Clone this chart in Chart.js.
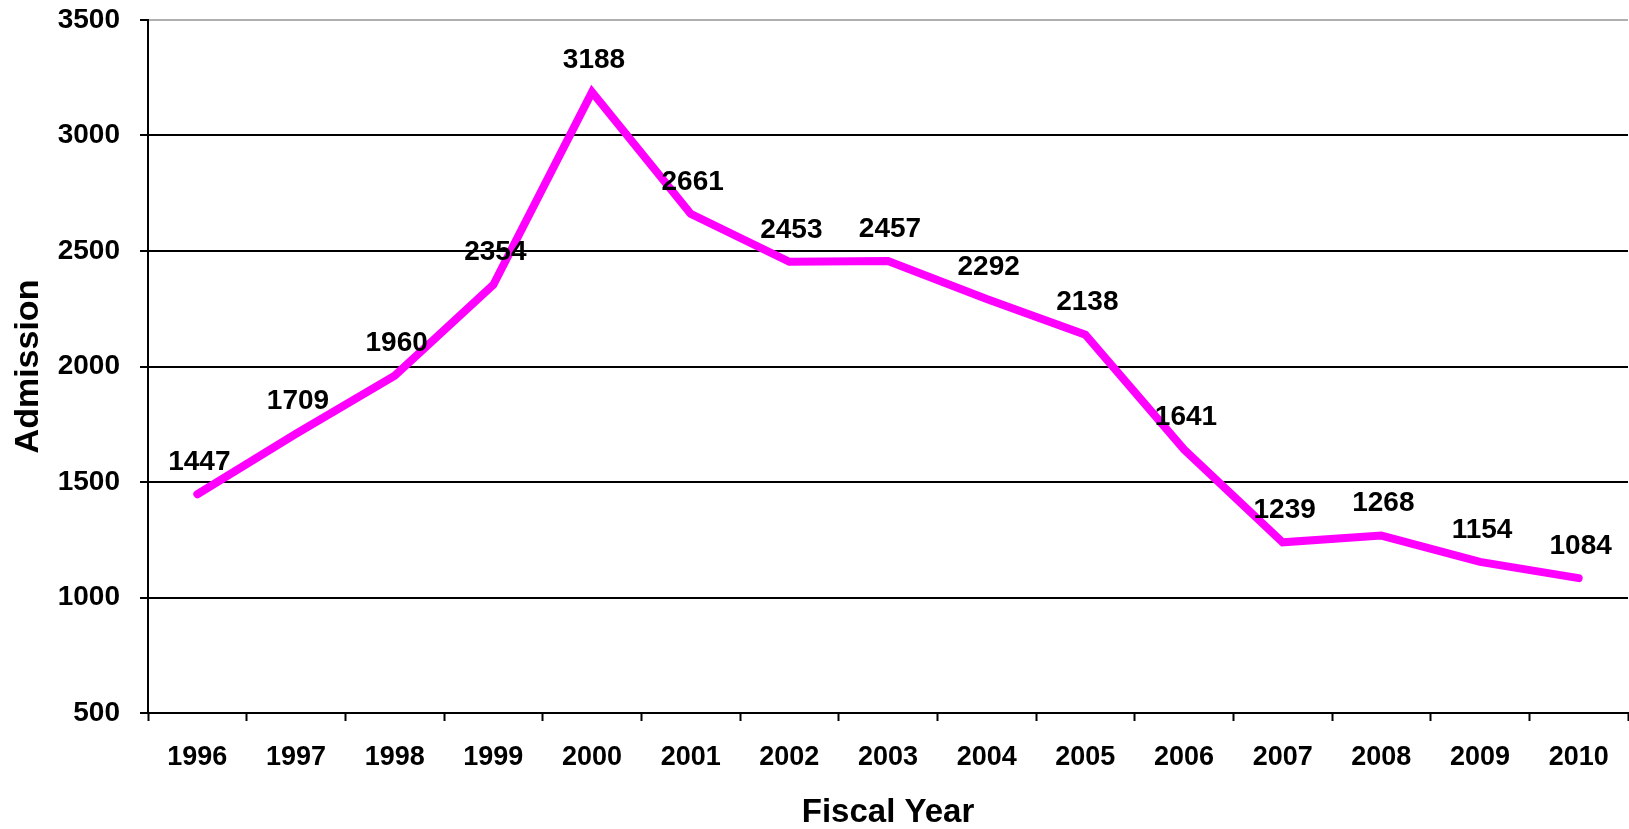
<!DOCTYPE html>
<html>
<head>
<meta charset="utf-8">
<script src="https://cdn.jsdelivr.net/npm/chart.js@4.4.1/dist/chart.umd.min.js"></script>
<style>
  html, body { margin: 0; padding: 0; background: #fff; }
  #wrap { width: 1629px; height: 829px; }
</style>
</head>
<body>
<div id="wrap"><canvas id="grafico"></canvas></div>
<script>
// datos
const years = ['1996', '1997', '1998', '1999', '2000', '2001', '2002', '2003',
               '2004', '2005', '2006', '2007', '2008', '2009', '2010'];
const admissions = [1447, 1709, 1960, 2354, 3188, 2661, 2453, 2457,
                    2292, 2138, 1641, 1239, 1268, 1154, 1084];
const yMin = 500;
const yMax = 3500;
const yStep = 500;

const FONT = '"Liberation Sans", Arial, sans-serif';

// etiquetas encima de cada punto
const etiquetas = {
    id: 'etiquetas',
    afterDatasetsDraw(chart) {
        const ctx = chart.ctx;
        const meta = chart.getDatasetMeta(0);
        ctx.save();
        ctx.font = 'bold 28px ' + FONT;
        ctx.fillStyle = '#000';
        ctx.textAlign = 'center';
        ctx.textBaseline = 'middle';
        meta.data.forEach((pt, i) => {
            ctx.fillText(String(admissions[i]), pt.x + 2, pt.y - 32);
        });
        ctx.restore();
    }
};

const config = {
    type: 'line',
    data: {
        labels: years,
        datasets: [{
            data: admissions,
            borderColor: '#ff00ff',
            borderWidth: 8,
            borderCapStyle: 'round',
            borderJoinStyle: 'miter',
            pointRadius: 0,
            tension: 0,
            fill: false
        }]
    },
    options: {
        responsive: true,
        maintainAspectRatio: false,
        animation: false,
        layout: { padding: { top: 0, right: 1, left: 0, bottom: 0 } },
        plugins: {
            legend: { display: false },
            tooltip: { enabled: false }
        },
        scales: {
            x: {
                offset: true,
                grid: {
                    offset: true,
                    drawOnChartArea: false,
                    drawTicks: true,
                    tickLength: 8,
                    tickWidth: 2,
                    tickColor: '#000'
                },
                border: { color: '#000', width: 2 },
                ticks: {
                    color: '#000',
                    padding: 20,
                    maxRotation: 0,
                    font: { family: FONT, size: 27, weight: 'bold' }
                },
                title: {
                    display: true,
                    text: 'Fiscal Year',
                    color: '#000',
                    padding: { top: 0, bottom: 0 },
                    font: { family: FONT, size: 33, weight: 'bold', lineHeight: 1 }
                },
                afterFit(scale) { scale.height = 116; }
            },
            y: {
                min: yMin,
                max: yMax,
                ticks: {
                    stepSize: yStep,
                    color: '#000',
                    padding: 20,
                    callback: v => String(v),
                    font: { family: FONT, size: 28, weight: 'bold' }
                },
                grid: {
                    color: ctx => (ctx.tick && ctx.tick.value === yMax) ? '#b0b0b0' : '#000',
                    lineWidth: 2,
                    tickLength: 8,
                    tickColor: '#000',
                    tickWidth: 2
                },
                border: { color: '#000', width: 2 },
                title: {
                    display: true,
                    text: 'Admission',
                    color: '#000',
                    padding: { top: 8, bottom: 0 },
                    font: { family: FONT, size: 34, weight: 'bold' }
                },
                afterFit(scale) {
                    scale.width = 148;
                    scale.paddingTop = 20;
                    scale.paddingBottom = 0;
                }
            }
        }
    },
    plugins: [etiquetas]
};

new Chart(document.getElementById('grafico').getContext('2d'), config);
</script>
</body>
</html>
